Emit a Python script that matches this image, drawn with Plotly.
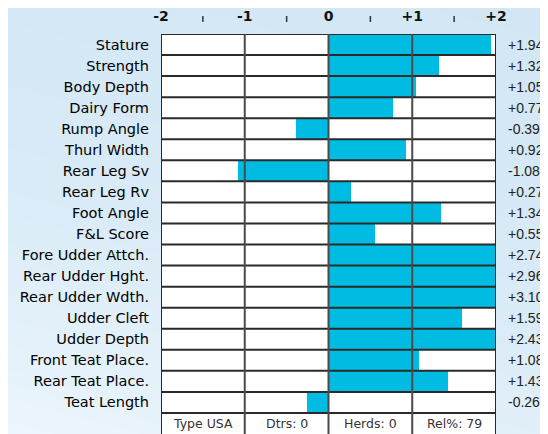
import plotly.graph_objects as go

traits = ["Stature", "Strength", "Body Depth", "Dairy Form", "Rump Angle", "Thurl Width",
          "Rear Leg Sv", "Rear Leg Rv", "Foot Angle", "F&L Score", "Fore Udder Attch.",
          "Rear Udder Hght.", "Rear Udder Wdth.", "Udder Cleft", "Udder Depth",
          "Front Teat Place.", "Rear Teat Place.", "Teat Length"]
values = [1.94, 1.32, 1.05, 0.77, -0.39, 0.92, -1.08, 0.27, 1.34, 0.55, 2.74,
          2.96, 3.10, 1.59, 2.43, 1.08, 1.43, -0.26]
tick_vals = [-2, -1, 0, 1, 2]
tick_text = ["-2", "-1", "0", "+1", "+2"]
minor_ticks = [-1.5, -0.5, 0.5, 1.5]
footer_text = ["Type USA", "Dtrs: 0", "Herds: 0", "Rel%: 79"]

FONT = "DejaVu Sans"
VFONT = "Liberation Sans"
BAR = "#00bce3"
LINE = "#2a2a2a"
n = len(traits)
rows = list(range(n))
footer_row = n

W, H = 540, 426
PL, PR, PT, PB = 153, 488, 26, 426   # plot box in figure pixels

# decorative background gradient (lighter toward lower-left)
gx = [i / 10 for i in range(11)]
gy = [j / 10 for j in range(11)]
gz = [[0.75 * y + 0.25 * x for x in gx] for y in gy]

fig = go.Figure()
fig.add_trace(go.Heatmap(
    x=gx, y=gy, z=gz, xaxis="x", yaxis="y", zsmooth="best", showscale=False,
    zmin=0, zmax=1, hoverinfo="skip",
    colorscale=[[0, "#ebf5fc"], [0.45, "#d9ebf7"], [1, "#d2e6f4"]],
))
fig.add_trace(go.Bar(
    x=values, y=rows, orientation="h", base=0, width=1.0, xaxis="x2", yaxis="y2",
    marker=dict(color=BAR, line=dict(width=0)),
    hoverinfo="skip", showlegend=False,
))

shapes = [dict(type="rect", xref="x2", yref="y2", x0=-2, x1=2, y0=-0.5, y1=footer_row + 0.5,
               fillcolor="white", line=dict(width=0), layer="below")]
for i in range(n + 1):
    shapes.append(dict(type="line", xref="x2", yref="y2", x0=-2, x1=2, y0=i - 0.5, y1=i - 0.5,
                       line=dict(color=LINE, width=2), layer="above"))
for v in tick_vals:
    shapes.append(dict(type="line", xref="x2", yref="y2", x0=v, x1=v, y0=-0.5, y1=footer_row + 0.5,
                       line=dict(color=LINE if v in (-2, 2) else "#4a4a4a", width=2), layer="above"))
for m in minor_ticks:
    shapes.append(dict(type="line", xref="x2", yref="paper", x0=m, x1=m,
                       y0=1 - 14 / H, y1=1 - 8 / H,
                       line=dict(color="#333333", width=1.5)))

annotations = []
for i, v in enumerate(values):
    annotations.append(dict(x=2, xref="x2", y=i, yref="y2", text=f"{v:+.2f}",
                            xanchor="left", xshift=10, showarrow=False,
                            font=dict(family=VFONT, size=14, color="#222222")))
for j, t in enumerate(footer_text):
    annotations.append(dict(x=minor_ticks[j], xref="x2", y=footer_row, yref="y2", text=t,
                            showarrow=False, font=dict(family=FONT, size=12.5, color="#333333")))

fig.update_layout(
    width=W, height=H,
    margin=dict(l=0, r=0, t=0, b=0, autoexpand=False),
    paper_bgcolor="#d5e8f5",
    plot_bgcolor="rgba(0,0,0,0)",
    shapes=shapes,
    annotations=annotations,
    bargap=0,
    showlegend=False,
    xaxis=dict(domain=[0, 1], range=[0, 1], visible=False, fixedrange=True),
    yaxis=dict(domain=[0, 1], range=[0, 1], visible=False, fixedrange=True),
    xaxis2=dict(domain=[PL / W, PR / W], anchor="y2", range=[-2, 2], side="top",
                tickvals=tick_vals, ticktext=tick_text,
                showgrid=False, zeroline=False, showline=False, ticks="",
                ticklabelstandoff=9, automargin=False,
                tickfont=dict(family=FONT, size=14, color="#111111", weight="bold"),
                fixedrange=True),
    yaxis2=dict(domain=[1 - PB / H, 1 - PT / H], anchor="x2",
                range=[footer_row + 0.5, -0.5], tickvals=rows, ticktext=traits,
                showgrid=False, zeroline=False, showline=False, ticks="",
                ticklabelstandoff=11, automargin=False,
                tickfont=dict(family=FONT, size=14.5, color="#000000"),
                fixedrange=True),
)

fig.write_html("out.html")
